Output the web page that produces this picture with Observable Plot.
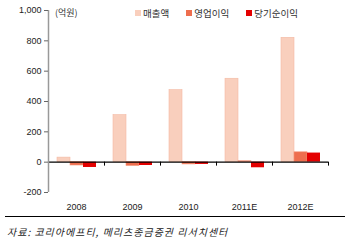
<!DOCTYPE html>
<html><head><meta charset="utf-8">
<script src="https://cdn.jsdelivr.net/npm/d3@7"></script>
<script src="https://cdn.jsdelivr.net/npm/@observablehq/plot@0.6"></script>
<style>
body{margin:0;background:#fff;}
#wrap{position:relative;width:350px;height:240px;font-family:"Liberation Sans",Arial,sans-serif;overflow:hidden;}
#unit{position:absolute;left:55px;top:6px;font-size:9px;font-family:"Noto Sans CJK KR",sans-serif;color:#333;}
#legend{position:absolute;left:135px;top:6px;font-size:9.5px;font-family:"Noto Sans CJK KR",sans-serif;color:#333;display:flex;}
#legend .it{display:flex;align-items:center;margin-right:17px;line-height:14px;}
#legend .sw{width:6px;height:6px;margin-right:2px;}
#foot{position:absolute;left:5px;top:216px;width:340px;border-top:1.5px solid #000;}
#src{position:absolute;left:7px;top:224px;font-size:10px;letter-spacing:1px;font-style:italic;font-family:"Noto Sans CJK KR",sans-serif;color:#222;white-space:nowrap;}
</style></head><body><div id="wrap"><div id="plot"></div><div id="unit"></div><div id="legend"></div><div id="foot"></div><div id="src"></div></div>
<script>
const years = ["2008","2009","2010","2011E","2012E"];
const revenue = [30, 310, 475, 550, 820];
const opProfit = [-22, -25, -15, 6, 65];
const netProfit = [-35, -22, -15, -37, 60];
const yTicks = [-200, 0, 200, 400, 600, 800, 1000];
const seriesNames = ["매출액", "영업이익", "당기순이익"];
const colors = ["#F9CFBD", "#EE6E4E", "#E40000"];
const unitLabel = "(억원)";
const sourceText = "자료: 코리아에프티, 메리츠종금증권 리서치센터";

const rows = years.map((y, i) => ({year: y, rev: revenue[i], op: opProfit[i], net: netProfit[i]}));
const fmt = d => d.toLocaleString("en-US");

const chart = Plot.plot({
  width: 350, height: 214,
  marginLeft: 48, marginRight: 22, marginTop: 10, marginBottom: 22,
  style: {fontFamily: "Liberation Sans, Arial, sans-serif", fontSize: "9px", color: "#222", background: "#fff"},
  x: {domain: years, padding: 0},
  y: {domain: [-200, 1000]},
  marks: [
    Plot.barY(rows, {x: "year", y: "rev", fill: colors[0], stroke: "#F3B9A3", strokeWidth: 0.6, insetLeft: 9, insetRight: 34}),
    Plot.barY(rows, {x: "year", y: "op", fill: colors[1], stroke: "#F49478", strokeWidth: 0.6, insetLeft: 22, insetRight: 21}),
    Plot.barY(rows, {x: "year", y: "net", fill: colors[2], insetLeft: 35, insetRight: 8}),
    Plot.ruleY([0], {stroke: "#000", strokeWidth: 1.3}),
    Plot.ruleX(years, {x: d => d, dx: 28, y1: 0, y2: -26, stroke: "#000"}),
    Plot.ruleX([years[0]], {x: d => d, dx: -28, y1: -200, y2: 1000, stroke: "#999", strokeWidth: 1.5}),
    Plot.axisY({ticks: yTicks, tickFormat: fmt, tickSize: 4, tickPadding: 3, stroke: "#666", label: null}),
    Plot.axisX({tickSize: 0, tickPadding: 11, label: null})
  ]
});
document.getElementById("plot").appendChild(chart);

document.getElementById("unit").textContent = unitLabel;
const lg = document.getElementById("legend");
seriesNames.forEach((n, i) => {
  const it = document.createElement("div"); it.className = "it";
  const sw = document.createElement("div"); sw.className = "sw"; sw.style.background = colors[i];
  const t = document.createElement("span"); t.textContent = n;
  it.appendChild(sw); it.appendChild(t); lg.appendChild(it);
});
document.getElementById("src").textContent = sourceText;
</script></body></html>
